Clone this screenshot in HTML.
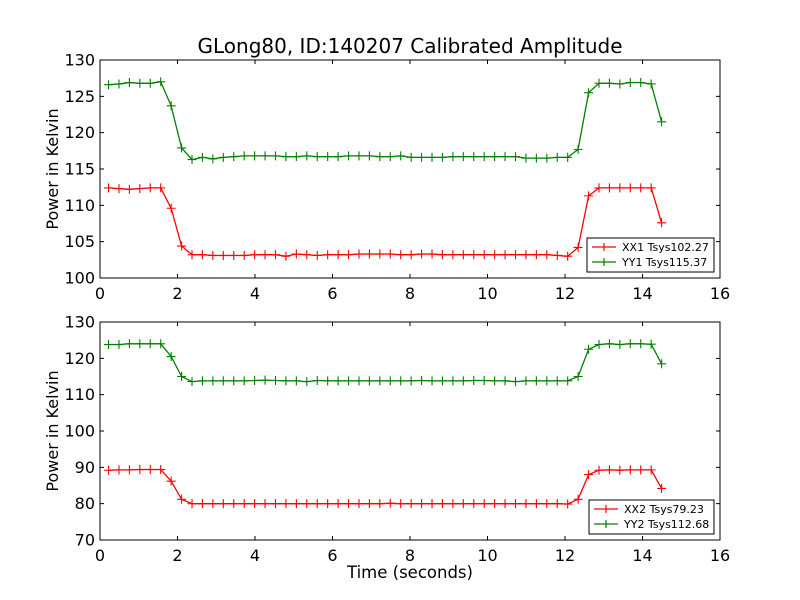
<!DOCTYPE html>
<html><head><meta charset="utf-8"><style>body{margin:0;background:#fff}svg{display:block;font-family:"DejaVu Sans","Liberation Sans",sans-serif}</style></head>
<body><svg id="s" width="800" height="600" xmlns="http://www.w3.org/2000/svg"></svg>
<script>
const s=document.getElementById('s');let h='<rect width="800" height="600" fill="#fff"/>';
const N=54,t0=0.22,dt=0.2693;
function series(pre,mid,post,plateau){
 const v=[];for(let i=0;i<N;i++){
  if(i<6)v.push(pre[i]);else if(i==6)v.push(plateau[0]);else if(i==7)v.push(plateau[1]);
  else if(i<=44)v.push(mid[(i-8)%mid.length]);else if(i==45)v.push(plateau[2]);else if(i==46)v.push(plateau[3]);
  else if(i<=52)v.push(post[i-47]);else v.push(plateau[4]);}
 return v;}
const g1=series([126.6,126.7,126.9,126.8,126.8,127.0],[116.4,116.6,116.4,116.6,116.7,116.8,116.8,116.8,116.8,116.7,116.7,116.8,116.7,116.7,116.7,116.8,116.8,116.8,116.7,116.7,116.8,116.6,116.6,116.6,116.6,116.7,116.7,116.7,116.7,116.7,116.7,116.7,116.5,116.5,116.5,116.6,116.6],[126.8,126.8,126.7,126.9,126.9,126.7],[123.7,117.9,117.7,125.5,121.5]);
g1[8]=116.3;
const r1=series([112.4,112.3,112.2,112.3,112.4,112.4],[103.2,103.2,103.1,103.1,103.1,103.1,103.2,103.2,103.2,103.0,103.3,103.2,103.1,103.2,103.2,103.2,103.3,103.3,103.3,103.3,103.2,103.2,103.3,103.3,103.2,103.2,103.2,103.2,103.2,103.2,103.2,103.2,103.2,103.2,103.2,103.1,103.0],[112.4,112.4,112.4,112.4,112.4,112.4],[109.6,104.4,104.2,111.3,107.6]);
const g2=series([123.8,123.8,124,124,124,124],[113.6,113.8,113.8,113.8,113.8,113.8,113.9,114.0,113.9,113.8,113.8,113.6,113.9,113.8,113.8,113.8,113.8,113.8,113.8,113.8,113.8,113.8,113.9,113.8,113.8,113.8,113.8,113.9,113.9,113.8,113.8,113.6,113.8,113.8,113.8,113.8,113.8],[123.8,124,123.8,124,124,123.9],[120.5,115.0,115.0,122.5,118.5]);
const r2=series([89.2,89.3,89.3,89.4,89.4,89.4],[80,80,80,80,80,80,80,80,80,80,80,80,80,80,80,80,80,80,80,80.1,80,80,80,80,80,80,80,80,80,80,80,80,80,80,80,80,79.9],[89.2,89.3,89.2,89.3,89.3,89.3],[86.2,81.2,81.2,88.0,84.2]);
function axes(top,ymin,ymax,ystep,data,leg){
 const L=100,R=720,B=top+218,W=620,H=218;
 const X=t=>L+t/16*W,Y=v=>B-(v-ymin)/(ymax-ymin)*H;
 for(const [v,c] of data){let p='';v.forEach((y,i)=>{p+=(i?'L':'M')+X(t0+dt*i).toFixed(1)+' '+Y(y).toFixed(1)});
  h+=`<path d="${p}" fill="none" stroke="${c}" stroke-width="1.3"/>`;
  let m='';v.forEach((y,i)=>{const x=X(t0+dt*i),yy=Y(y);m+=`M${x-4.5} ${yy}h9M${x} ${yy-4.5}v9`});
  h+=`<path d="${m}" stroke="${c}" stroke-width="1.1"/>`;}
 h+=`<rect x="${L}" y="${top}" width="${W}" height="${H}" fill="none" stroke="#000"/>`;
 for(let t=0;t<=16;t+=2){const x=X(t);h+=`<path d="M${x} ${B}v-4M${x} ${top}v4" stroke="#000"/><text x="${x}" y="${B+21}" font-size="16" text-anchor="middle">${t}</text>`;}
 for(let v=ymin;v<=ymax;v+=ystep){const y=Y(v);h+=`<path d="M${L} ${y}h4M${R} ${y}h-4" stroke="#000"/><text x="${L-5}" y="${y+5.5}" font-size="16" text-anchor="end">${v}</text>`;}
 h+=`<text transform="translate(58 ${top+109}) rotate(-90)" font-size="16" text-anchor="middle">Power in Kelvin</text>`;
 const [lx,ly,lw]=leg;h+=`<rect x="${lx}" y="${ly}" width="${lw}" height="34" fill="#fff" stroke="#000"/>`;
 data.forEach(([v,c,n],k)=>{const yy=ly+9+k*15;h+=`<path d="M${lx+5} ${yy}h24M${lx+17} ${yy-4}v8" stroke="${c}" stroke-width="1.2"/><text x="${lx+35}" y="${yy+4}" font-size="11">${n}</text>`;});
}
axes(60,100,130,5,[[r1,'#ff0000','XX1 Tsys102.27'],[g1,'#008000','YY1 Tsys115.37']],[587,238,127]);
axes(322,70,130,10,[[r2,'#ff0000','XX2 Tsys79.23'],[g2,'#008000','YY2 Tsys112.68']],[589,500,125]);
h+=`<text x="410" y="53" font-size="20" text-anchor="middle">GLong80, ID:140207 Calibrated Amplitude</text>`;
h+=`<text x="410" y="578" font-size="16.5" text-anchor="middle">Time (seconds)</text>`;
s.innerHTML=h;
</script></body></html>
